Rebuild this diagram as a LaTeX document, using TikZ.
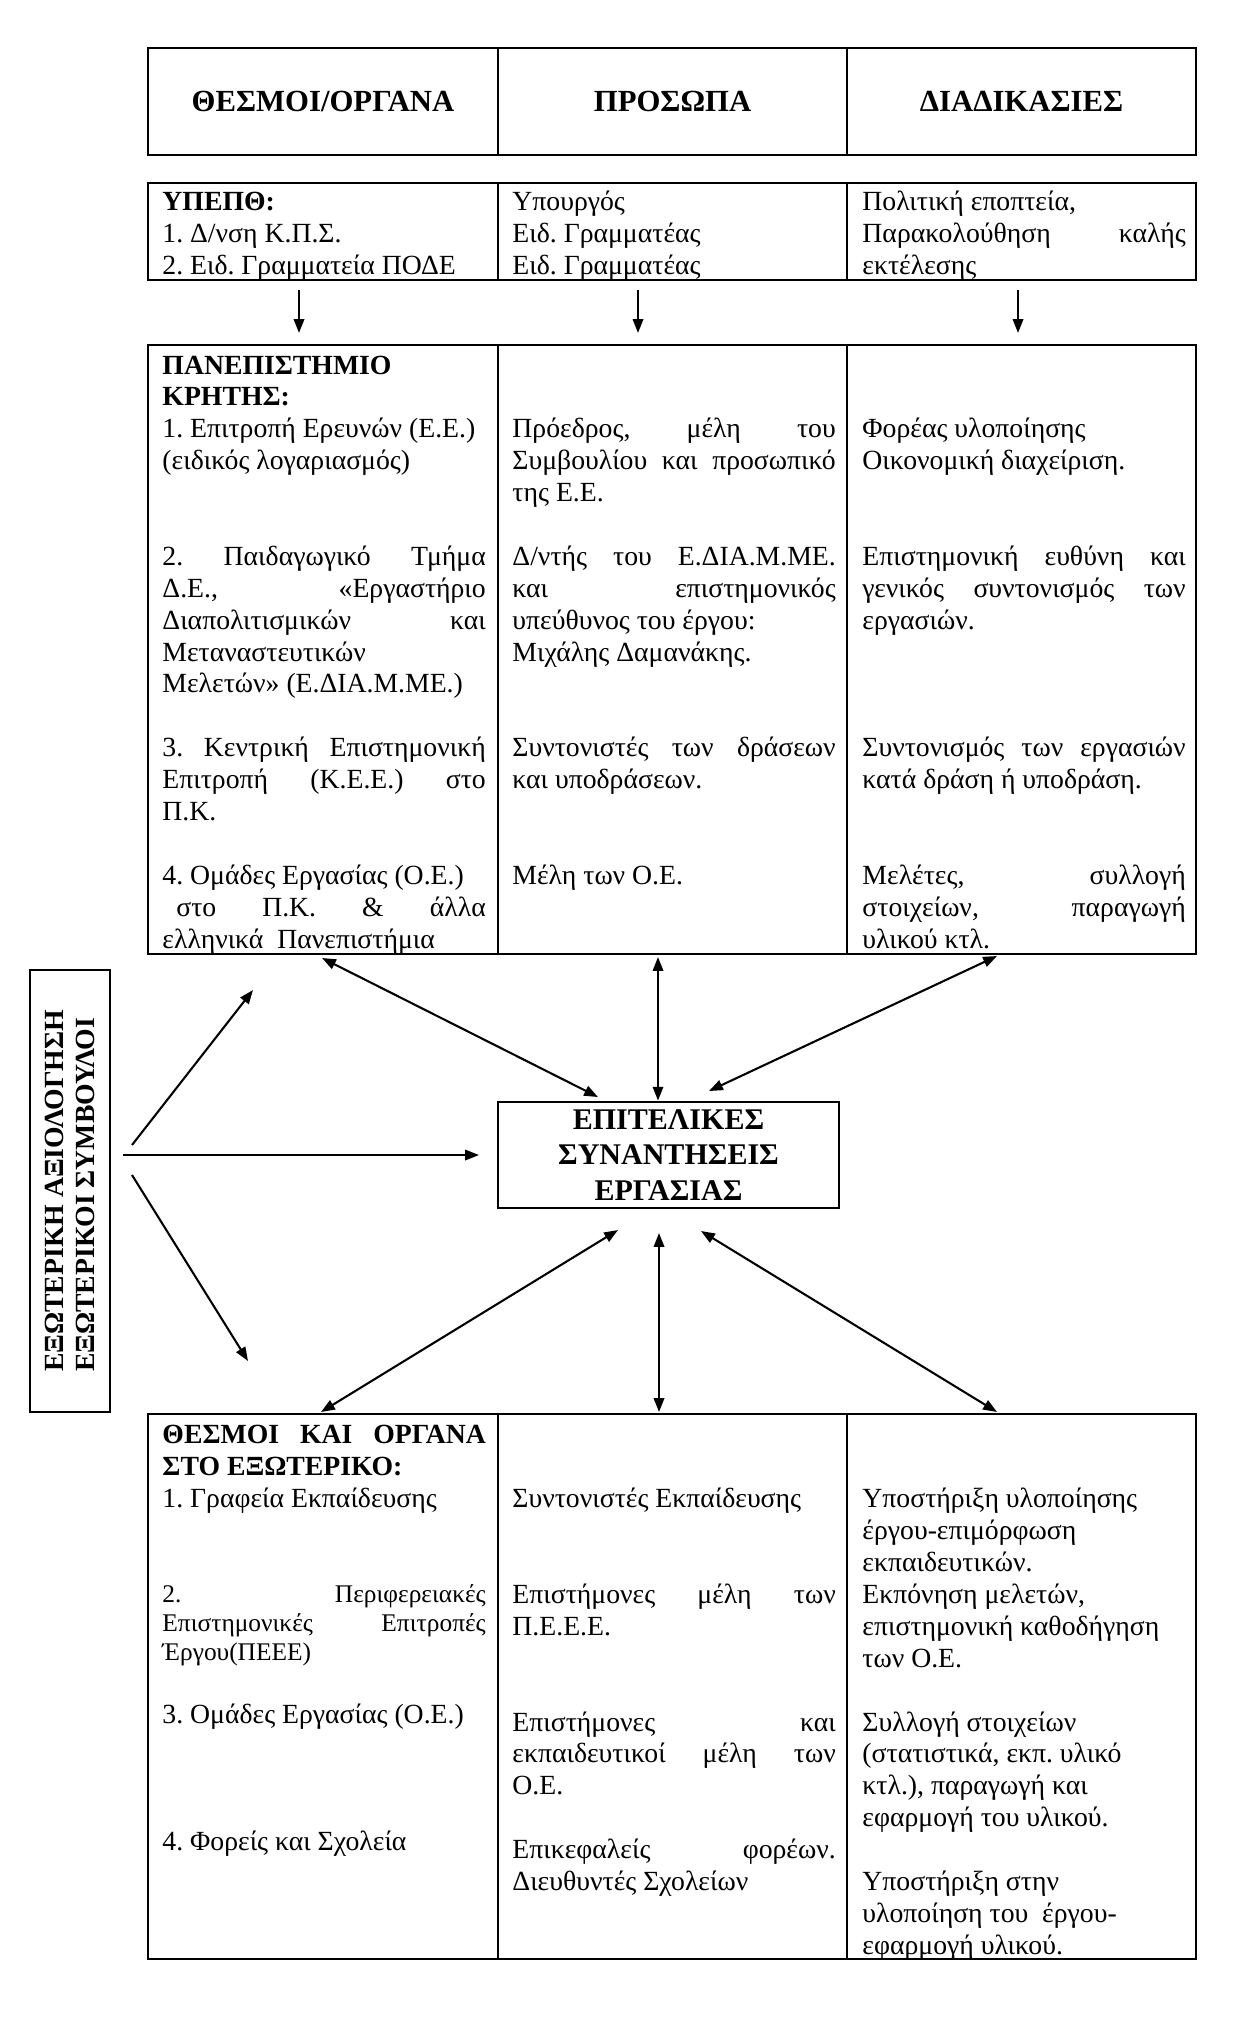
\documentclass[tikz,border=0pt]{standalone}
\usepackage{fontspec}
\setmainfont{Liberation Serif}
\frenchspacing
\usetikzlibrary{arrows.meta}
\definecolor{eapInk}{HTML}{000000}
\tikzset{
  eap frame/.style={draw=eapInk, line width=1.2pt},
  eap rule/.style={draw=eapInk, line width=1pt},
  eap link/.style={draw=eapInk, line width=0.9pt, -{Triangle[length=6pt,width=4.5pt]}},
  eap both/.style={eap link, {Triangle[length=6pt,width=4.5pt]}-{Triangle[length=6pt,width=4.5pt]}},
  eap head/.style={inner sep=0pt, font=\fontsize{13.3}{15}\selectfont\bfseries, text=eapInk},
  eap cell/.style={anchor=base west, inner sep=0pt, text width=140pt, align=justify, font=\fontsize{12}{13.8}\selectfont\frenchspacing, text=eapInk},
  eap small cell/.style={eap cell, font=\fontsize{11}{12.6}\selectfont\frenchspacing},
  eap box/.style={draw=eapInk, line width=1.2pt, inner sep=0pt, align=center, text=eapInk},
}

\begin{document}
\begin{tikzpicture}[x=0.433pt, y=-0.433pt]
  \useasboundingbox (0,0) rectangle (1244,2021);

  % Table frames and column rules
  \foreach \ya/\yb in {48/155, 183/280, 345/954, 1414/1959} {
    \draw[eap frame] (148,\ya) rectangle (1196,\yb);
    \foreach \x in {498,847} {
      \draw[eap rule] (\x,\ya) -- (\x,\yb);
    }
  }

  % Header row
  \node[eap head] (hInst) at (323,101) {ΘΕΣΜΟΙ/ΟΡΓΑΝΑ};
  \node[eap head] (hPers) at (672.5,101) {ΠΡΟΣΩΠΑ};
  \node[eap head] (hProc) at (1021.5,101) {ΔΙΑΔΙΚΑΣΙΕΣ};

  % Ministry row
  \node[eap cell] (minInst) at (162,210.5) {\textbf{ΥΠΕΠΘ:}\\1. Δ/νση Κ.Π.Σ.\\2. Ειδ. Γραμματεία ΠΟΔΕ};
  \node[eap cell] (minPers) at (512,210.5) {Υπουργός\\Ειδ. Γραμματέας\\Ειδ. Γραμματέας};
  \node[eap cell] (minProc) at (862,210.5) {Πολιτική εποπτεία,\\Παρακολούθηση καλής\linebreak εκτέλεσης};

  % Ministry -> University
  \foreach \x/\n in {299/a, 638/b, 1018/c} {
    \coordinate (dn\n s) at (\x,290);
    \coordinate (dn\n e) at (\x,333);
    \draw[eap link] (dn\n s) -- (dn\n e);
  }

  % University of Crete
  \node[eap cell] (uniInstA) at (162,374) {\textbf{ΠΑΝΕΠΙΣΤΗΜΙΟ}\\\textbf{ΚΡΗΤΗΣ:}\\1. Επιτροπή Ερευνών (Ε.Ε.)\\(ειδικός λογαριασμός)};
  \node[eap cell] (uniInstB) at (162,565.4) {2. Παιδαγωγικό Τμήμα\linebreak Δ.Ε., «Εργαστήριο\linebreak Διαπολιτισμικών και\linebreak Μεταναστευτικών\linebreak Μελετών» (Ε.ΔΙΑ.Μ.ΜΕ.)};
  \node[eap cell] (uniInstC) at (162,756.8) {3. Κεντρική Επιστημονική\linebreak Επιτροπή (Κ.Ε.Ε.) στο\linebreak Π.Κ.};
  \node[eap cell] (uniInstD) at (162,884.6) {4. Ομάδες Εργασίας (Ο.Ε.)\\\hspace*{6pt}στο Π.Κ. \& άλλα\linebreak ελληνικά\ \ Πανεπιστήμια};
  \node[eap cell] (uniPersA) at (512,437.8) {Πρόεδρος, μέλη του\linebreak Συμβουλίου και προσωπικό\linebreak της Ε.Ε.};
  \node[eap cell] (uniPersB) at (512,565.4) {Δ/ντής του Ε.ΔΙΑ.Μ.ΜΕ.\linebreak και επιστημονικός\linebreak υπεύθυνος του έργου:\\Μιχάλης Δαμανάκης.};
  \node[eap cell] (uniPersC) at (512,756.8) {Συντονιστές των δράσεων\linebreak και υποδράσεων.};
  \node[eap cell] (uniPersD) at (512,884.6) {Μέλη των Ο.Ε.};
  \node[eap cell] (uniProcA) at (862,437.8) {Φορέας υλοποίησης\\Οικονομική διαχείριση.};
  \node[eap cell] (uniProcB) at (862,565.4) {Επιστημονική ευθύνη και\linebreak γενικός συντονισμός των\linebreak εργασιών.};
  \node[eap cell] (uniProcC) at (862,756.8) {Συντονισμός των εργασιών\linebreak κατά δράση ή υποδράση.};
  \node[eap cell] (uniProcD) at (862,884.6) {Μελέτες, συλλογή\linebreak στοιχείων, παραγωγή\linebreak υλικού κτλ.};

  % Working meetings and external evaluation
  \node[eap box, minimum width=147.7pt, minimum height=45.9pt,
        font=\fontsize{13}{15.4}\selectfont\bfseries] (meet) at (668.5,1155)
        {ΕΠΙΤΕΛΙΚΕΣ\\ΣΥΝΑΝΤΗΣΕΙΣ\\ΕΡΓΑΣΙΑΣ};
  \node[eap box, rotate=90, align=left, minimum width=191.4pt, minimum height=34.6pt,
        font=\fontsize{12}{13.8}\selectfont\bfseries] (extEval) at (70,1191)
        {ΕΞΩΤΕΡΙΚΗ ΑΞΙΟΛΟΓΗΣΗ\\ΕΞΩΤΕΡΙΚΟΙ ΣΥΜΒΟΥΛΟΙ};

  % Evaluation arrows
  \coordinate (evUpS) at (132,1145);
  \coordinate (evUpE) at (253,990);
  \coordinate (evMidS) at (123,1155);
  \coordinate (evMidE) at (479,1155);
  \coordinate (evDnS) at (132,1175);
  \coordinate (evDnE) at (248,1361);
  \draw[eap link] (evUpS) -- (evUpE);
  \draw[eap link] (evMidS) -- (evMidE);
  \draw[eap link] (evDnS) -- (evDnE);

  % University <-> meetings
  \coordinate (upL) at (322,958);
  \coordinate (upLm) at (598,1097);
  \coordinate (upM) at (658,957);
  \coordinate (upR) at (997,956);
  \coordinate (upRm) at (709,1091);
  \draw[eap both] (upL) -- (upLm);
  \draw[eap both] (upM) -- (upM |- meet.north);
  \draw[eap both] (upR) -- (upRm);

  % Meetings <-> abroad
  \coordinate (dnLm) at (618,1230);
  \coordinate (dnL) at (321,1412);
  \coordinate (dnMm) at (659,1233);
  \coordinate (dnM) at (659,1412);
  \coordinate (dnRm) at (701,1231);
  \coordinate (dnR) at (997,1412);
  \draw[eap both] (dnLm) -- (dnL);
  \draw[eap both] (dnMm) -- (dnM);
  \draw[eap both] (dnRm) -- (dnR);

  % Institutions abroad
  \node[eap cell] (abrInstA) at (162,1443.9) {\textbf{ΘΕΣΜΟΙ ΚΑΙ ΟΡΓΑΝΑ}\linebreak\textbf{ΣΤΟ ΕΞΩΤΕΡΙΚΟ:}\\1. Γραφεία Εκπαίδευσης};
  \node[eap small cell] (abrInstB) at (162,1602.5) {2. Περιφερειακές\linebreak Επιστημονικές Επιτροπές\linebreak Έργου(ΠΕΕΕ)};
  \node[eap cell] (abrInstC) at (162,1723.9) {3. Ομάδες Εργασίας (Ο.Ε.)};
  \node[eap cell] (abrInstD) at (162,1850.2) {4. Φορείς και Σχολεία};
  \node[eap cell] (abrPersA) at (512,1507.7) {Συντονιστές Εκπαίδευσης};
  \node[eap cell] (abrPersB) at (512,1603.4) {Επιστήμονες μέλη των\linebreak Π.Ε.Ε.Ε.};
  \node[eap cell] (abrPersC) at (512,1731) {Επιστήμονες και\linebreak εκπαιδευτικοί μέλη των\linebreak Ο.Ε.};
  \node[eap cell] (abrPersD) at (512,1858.6) {Επικεφαλείς φορέων.\linebreak Διευθυντές Σχολείων};
  \node[eap cell] (abrProcA) at (862,1507.7) {Υποστήριξη υλοποίησης\\έργου-επιμόρφωση\\εκπαιδευτικών.\\Εκπόνηση μελετών,\\επιστημονική καθοδήγηση\\των Ο.Ε.};
  \node[eap cell] (abrProcB) at (862,1731) {Συλλογή στοιχείων\\(στατιστικά, εκπ. υλικό\\κτλ.), παραγωγή και\\εφαρμογή του υλικού.};
  \node[eap cell] (abrProcC) at (862,1890.5) {Υποστήριξη στην\\υλοποίηση του\ \ έργου-\\εφαρμογή υλικού.};
\end{tikzpicture}
\end{document}
